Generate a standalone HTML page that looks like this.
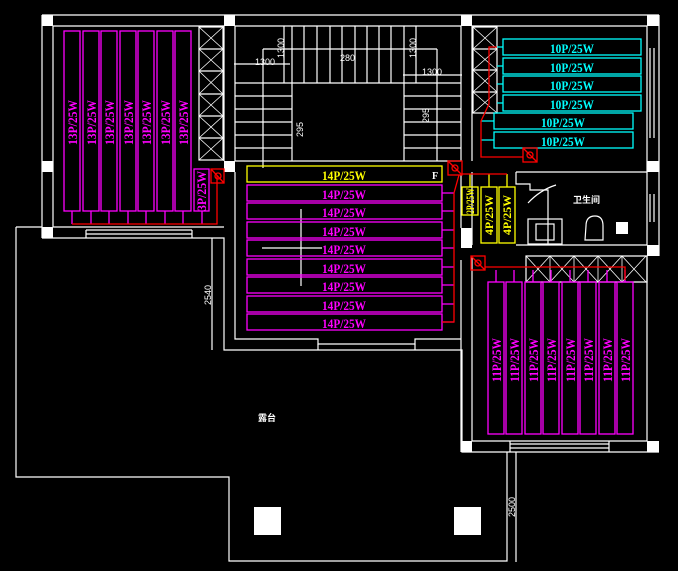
<!DOCTYPE html>
<html><head><meta charset="utf-8"><style>
html,body{margin:0;padding:0;background:#000;}
svg{display:block}
text{font-family:"Liberation Serif","Noto Serif CJK SC",serif;font-weight:bold;}
.w{stroke:#fff;stroke-width:1.2;fill:none}
.m{stroke:#f0f;stroke-width:1.3;fill:none}
.c{stroke:#0ff;stroke-width:1.3;fill:none}
.y{stroke:#ff0;stroke-width:1.3;fill:none}
.r{stroke:#f00;stroke-width:1.3;fill:none}
.dim{font-family:"Liberation Sans",sans-serif;font-weight:normal;fill:#fff;font-size:9px}
</style></head><body>
<svg width="678" height="571" viewBox="0 0 678 571" xmlns="http://www.w3.org/2000/svg">
<rect width="678" height="571" fill="#000"/>
<!-- outer walls -->
<g class="w">
<path d="M42 15H659"/><path d="M53 26H224M235 26H461M472 26H647"/>
<path d="M42 15V238M53 26V227M224 26V161M235 26V161"/>
<path d="M461 26V161M472 26V161M647 26V245M659 15V256"/>
<path d="M42 238H224V350H462V452H659"/>
<path d="M53 227H224M235 172V339H318V344H415V339H461"/>
<path d="M318 344V350M415 344V350"/>
<path d="M86 230H192M86 234H192M86 230V238M192 230V238"/>
<path d="M16 227H42M16 227V477H229V561H507V452"/>
<path d="M472 256V441H647V256"/>
<path d="M510 444H609M510 448H609M510 441V452M609 441V452"/>
<path d="M472 172V245M461 175V228M461 260V452"/>
<path d="M516 172H647M516 245H647M516 172V184H530V190H548V245"/>
<path d="M650 48V138M654 48V138M650 194V222M654 194V222"/>
<path d="M526 256H647V282H526Z"/>
</g>
<!-- columns -->
<g fill="#fff">
<rect x="42" y="15" width="11" height="11"/><rect x="224" y="15" width="11" height="11"/>
<rect x="42" y="161" width="11" height="11"/><rect x="224" y="161" width="11" height="11"/>
<rect x="42" y="227" width="11" height="11"/><rect x="461" y="15" width="11" height="11"/>
<rect x="307" y="15" width="12" height="11" opacity="0"/>
<rect x="647" y="15" width="12" height="11"/><rect x="647" y="161" width="12" height="11"/>
<rect x="647" y="245" width="12" height="11"/><rect x="461" y="228" width="11" height="20"/>
<rect x="461" y="441" width="11" height="11"/><rect x="647" y="441" width="12" height="11"/>
<rect x="254" y="507" width="27" height="28"/><rect x="454" y="507" width="27" height="28"/>
<rect x="616" y="222" width="12" height="12"/>
</g>
<!-- shafts with X -->
<g class="w">
<rect x="199" y="27" width="24" height="133"/>
<path d="M199 49H223M199 71H223M199 94H223M199 116H223M199 138H223"/>
<path d="M199 27L223 49M223 27L199 49M199 49L223 71M223 49L199 71M199 71L223 94M223 71L199 94M199 94L223 116M223 94L199 116M199 116L223 138M223 116L199 138M199 138L223 160M223 138L199 160" stroke-width="0.8"/>
<rect x="473" y="27" width="24" height="86"/>
<path d="M473 49H497M473 70H497M473 92H497"/>
<path d="M473 27L497 49M497 27L473 49M473 49L497 70M497 49L473 70M473 70L497 92M497 70L473 92M473 92L497 113M497 92L473 113" stroke-width="0.8"/>
<path d="M526 256L550 282M550 256L526 282M550 256L574 282M574 256L550 282M574 256L598 282M598 256L574 282M598 256L622 282M622 256L598 282M622 256L646 282M646 256L622 282M550 256V282M574 256V282M598 256V282M622 256V282" stroke-width="0.8"/>
</g>
<!-- stairs -->
<g class="w" stroke-width="1">
<path d="M235 83H292M235 96H292M235 109H292M235 122H292M235 135H292M235 148H292M235 161H461"/>
<path d="M404 83H461M404 96H461M404 109H461M404 122H461M404 135H461M404 148H461"/>
<path d="M292 26V161M404 26V161M263 49V168M437 49V161M263 49H437M292 83H404"/>
<path d="M304 26V83M317 26V83M330 26V83M342 26V83M355 26V83M367 26V83M379 26V83M391 26V83"/>
<path d="M234 64H290M284 26V83M403 75H462M416 26V83M212 238V350M516 452V562M301 209V286M262 248H322"/>
</g>
<text class="dim" x="255" y="65">1300</text><text class="dim" x="422" y="75">1300</text>
<text class="dim" x="340" y="61">280</text>
<text class="dim" transform="translate(284,58) rotate(-90)">1300</text>
<text class="dim" transform="translate(416,58) rotate(-90)">1300</text>
<text class="dim" transform="translate(303,137) rotate(-90)">295</text>
<text class="dim" transform="translate(429,123) rotate(-90)">295</text>
<text class="dim" transform="translate(211,305) rotate(-90)">2540</text>
<text class="dim" transform="translate(515,517) rotate(-90)">2500</text>
<text x="258" y="421" fill="#fff" font-size="9" style="font-family:'Liberation Sans','Noto Sans CJK SC',sans-serif">露台</text>
<text x="573" y="203" fill="#fff" font-size="9" style="font-family:'Liberation Sans','Noto Sans CJK SC',sans-serif">卫生间</text>
<!-- bathroom fixtures -->
<g class="w">
<rect x="528" y="219" width="34" height="25"/><rect x="536" y="224" width="18" height="16"/>
<path d="M586 226Q586 216 595 216Q603 216 603 226V240H585Z"/>
<path d="M528 203Q540 190 556 185"/>
</g>
<!-- left panels 13P -->
<g class="m">
<rect x="64" y="31" width="16" height="180"/><rect x="83" y="31" width="16" height="180"/>
<rect x="101" y="31" width="16" height="180"/><rect x="120" y="31" width="16" height="180"/>
<rect x="138" y="31" width="16" height="180"/><rect x="157" y="31" width="16" height="180"/>
<rect x="175" y="31" width="16" height="180"/><rect x="194" y="169" width="15" height="42"/>
<path d="M72 211V224M91 211V224M109 211V224M128 211V224M146 211V224M165 211V224M183 211V224M202 211V224"/>
</g>
<g fill="#f0f" font-size="13">
<text transform="translate(77,145) rotate(-90)" textLength="45" lengthAdjust="spacingAndGlyphs">13P/25W</text>
<text transform="translate(96,145) rotate(-90)" textLength="45" lengthAdjust="spacingAndGlyphs">13P/25W</text>
<text transform="translate(114,145) rotate(-90)" textLength="45" lengthAdjust="spacingAndGlyphs">13P/25W</text>
<text transform="translate(133,145) rotate(-90)" textLength="45" lengthAdjust="spacingAndGlyphs">13P/25W</text>
<text transform="translate(151,145) rotate(-90)" textLength="45" lengthAdjust="spacingAndGlyphs">13P/25W</text>
<text transform="translate(170,145) rotate(-90)" textLength="45" lengthAdjust="spacingAndGlyphs">13P/25W</text>
<text transform="translate(188,145) rotate(-90)" textLength="45" lengthAdjust="spacingAndGlyphs">13P/25W</text>
<text transform="translate(206,211) rotate(-90)" textLength="40" lengthAdjust="spacingAndGlyphs">3P/25W</text>
</g>
<!-- center panels 14P -->
<rect class="y" x="247" y="166" width="195" height="16"/>
<g class="m">
<rect x="247" y="185" width="195" height="16"/><rect x="247" y="203" width="195" height="16"/>
<rect x="247" y="222" width="195" height="16"/><rect x="247" y="240" width="195" height="16"/>
<rect x="247" y="259" width="195" height="16"/><rect x="247" y="277" width="195" height="16"/>
<rect x="247" y="296" width="195" height="16"/><rect x="247" y="314" width="195" height="16"/>
<path d="M442 193H454M442 211H454M442 230H454M442 248H454M442 267H454M442 285H454M442 304H454M442 322H454"/>
</g>
<g font-size="13" text-anchor="middle">
<text x="344" y="180" fill="#ff0" textLength="44" lengthAdjust="spacingAndGlyphs">14P/25W</text>
<g fill="#f0f">
<text x="344" y="199" textLength="44" lengthAdjust="spacingAndGlyphs">14P/25W</text>
<text x="344" y="217" textLength="44" lengthAdjust="spacingAndGlyphs">14P/25W</text>
<text x="344" y="236" textLength="44" lengthAdjust="spacingAndGlyphs">14P/25W</text>
<text x="344" y="254" textLength="44" lengthAdjust="spacingAndGlyphs">14P/25W</text>
<text x="344" y="273" textLength="44" lengthAdjust="spacingAndGlyphs">14P/25W</text>
<text x="344" y="291" textLength="44" lengthAdjust="spacingAndGlyphs">14P/25W</text>
<text x="344" y="310" textLength="44" lengthAdjust="spacingAndGlyphs">14P/25W</text>
<text x="344" y="328" textLength="44" lengthAdjust="spacingAndGlyphs">14P/25W</text>
</g></g>
<text x="432" y="179" fill="#fff" font-size="10">F</text>
<!-- cyan panels -->
<g class="c">
<rect x="503" y="39" width="138" height="16"/><rect x="503" y="58" width="138" height="16"/>
<rect x="503" y="76" width="138" height="16"/><rect x="503" y="95" width="138" height="16"/>
<rect x="494" y="113" width="139" height="16"/><rect x="494" y="132" width="139" height="16"/>
<path d="M497 47H503M497 66H503M497 84H503M497 103H503M481 121H494M481 140H494"/>
</g>
<g fill="#0ff" font-size="13" text-anchor="middle">
<text x="572" y="53" textLength="44" lengthAdjust="spacingAndGlyphs">10P/25W</text>
<text x="572" y="72" textLength="44" lengthAdjust="spacingAndGlyphs">10P/25W</text>
<text x="572" y="90" textLength="44" lengthAdjust="spacingAndGlyphs">10P/25W</text>
<text x="572" y="109" textLength="44" lengthAdjust="spacingAndGlyphs">10P/25W</text>
<text x="563" y="127" textLength="44" lengthAdjust="spacingAndGlyphs">10P/25W</text>
<text x="563" y="146" textLength="44" lengthAdjust="spacingAndGlyphs">10P/25W</text>
</g>
<!-- yellow small panels -->
<g class="y">
<rect x="462" y="187" width="16" height="28"/><rect x="481" y="187" width="16" height="56"/><rect x="499" y="187" width="16" height="56"/>
<path d="M470 174V187M489 174V187M507 174V187"/>
</g>
<g fill="#ff0" font-size="12">
<text transform="translate(474,214) rotate(-90)" textLength="26" lengthAdjust="spacingAndGlyphs">2P/25W</text>
<text transform="translate(493,235) rotate(-90)" textLength="40" lengthAdjust="spacingAndGlyphs">4P/25W</text>
<text transform="translate(511,235) rotate(-90)" textLength="40" lengthAdjust="spacingAndGlyphs">4P/25W</text>
</g>
<!-- right lower panels 11P -->
<g class="m">
<rect x="488" y="282" width="16" height="152"/><rect x="506" y="282" width="16" height="152"/>
<rect x="525" y="282" width="16" height="152"/><rect x="543" y="282" width="16" height="152"/>
<rect x="562" y="282" width="16" height="152"/><rect x="580" y="282" width="16" height="152"/>
<rect x="599" y="282" width="16" height="152"/><rect x="617" y="282" width="16" height="152"/>
<path d="M496 270V282M514 270V282M533 270V282M551 270V282M570 270V282M588 270V282M607 270V282M625 270V282"/>
</g>
<g fill="#f0f" font-size="13">
<text transform="translate(501,382) rotate(-90)" textLength="44" lengthAdjust="spacingAndGlyphs">11P/25W</text>
<text transform="translate(519,382) rotate(-90)" textLength="44" lengthAdjust="spacingAndGlyphs">11P/25W</text>
<text transform="translate(538,382) rotate(-90)" textLength="44" lengthAdjust="spacingAndGlyphs">11P/25W</text>
<text transform="translate(556,382) rotate(-90)" textLength="44" lengthAdjust="spacingAndGlyphs">11P/25W</text>
<text transform="translate(575,382) rotate(-90)" textLength="44" lengthAdjust="spacingAndGlyphs">11P/25W</text>
<text transform="translate(593,382) rotate(-90)" textLength="44" lengthAdjust="spacingAndGlyphs">11P/25W</text>
<text transform="translate(612,382) rotate(-90)" textLength="44" lengthAdjust="spacingAndGlyphs">11P/25W</text>
<text transform="translate(630,382) rotate(-90)" textLength="44" lengthAdjust="spacingAndGlyphs">11P/25W</text>
</g>
<!-- red pipes -->
<g class="r">
<rect x="211" y="169" width="13" height="14"/><path d="M211 169L224 183"/>
<path d="M72 224H217V176"/>
<rect x="448" y="161" width="14" height="14"/><path d="M448 161L462 175"/>
<path d="M459 175L454 193V322H442"/>
<path d="M462 174H507"/>
<rect x="523" y="148" width="14" height="14"/><path d="M523 148L537 162"/>
<path d="M523 157H481V121L489 104V47H497"/>
<rect x="471" y="256" width="14" height="14"/><path d="M471 256L485 270"/>
<path d="M485 267H625V280"/>
<circle cx="218" cy="176" r="3"/><circle cx="455" cy="168" r="3"/><circle cx="530" cy="155" r="3"/><circle cx="478" cy="263" r="3"/>
</g>
</svg>
</body></html>
